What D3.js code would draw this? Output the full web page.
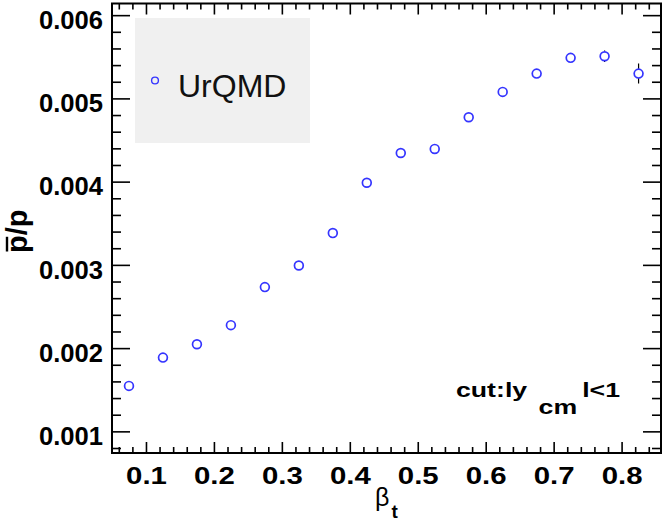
<!DOCTYPE html>
<html>
<head>
<meta charset="utf-8">
<title>pbar/p vs beta_t</title>
<script src="https://d3js.org/d3.v7.min.js"></script>
<style>
  body { margin: 0; background: #fff; }
  svg { display: block; }
  text { font-family: "Liberation Sans", Arial, sans-serif; }
</style>
</head>
<body>
<div id="chart"></div>
<script>
// data (UrQMD, |y_cm|<1)
const beta = [0.075, 0.125, 0.175, 0.225, 0.275, 0.325, 0.375, 0.425,
              0.475, 0.525, 0.575, 0.625, 0.675, 0.725, 0.775, 0.825]
const ratio = [0.001546, 0.001886, 0.002047, 0.002276, 0.002733, 0.002993, 0.003382, 0.003987,
               0.004344, 0.004393, 0.004773, 0.005078, 0.005298, 0.005487, 0.005506, 0.005298]
const ratioErr = [0.00004, 0.00003, 0.00003, 0.00003, 0.00003, 0.00003, 0.00003, 0.00003,
                  0.00004, 0.00004, 0.00004, 0.00004, 0.00005, 0.00005, 0.00007, 0.00012]
const xTicks = [0.1, 0.2, 0.3, 0.4, 0.5, 0.6, 0.7, 0.8]
const yTicks = [0.001, 0.002, 0.003, 0.004, 0.005, 0.006]
const legendLabel = "UrQMD"

const W = 662, H = 523
const frame = { left: 112, right: 661, top: 3.5, bottom: 453 }
const blue = "#3535ff"

const svg = d3.select("#chart").append("svg")
  .attr("width", W).attr("height", H)

const x = d3.scaleLinear().domain([0.05, 0.858]).range([frame.left, frame.right])
const y = d3.scaleLinear().domain([0.00074, 0.00614]).range([frame.bottom, frame.top])

// minor tick positions (every 0.02 in x, every 0.0002 in y)
const xMinor = d3.range(3, 43).filter(i => i % 5 !== 0).map(i => i * 0.02)
const yMinor = d3.range(4, 31).filter(i => i % 5 !== 0).map(i => i * 0.0002)

function styleAxis(g) {
  g.select(".domain").remove()
  g.selectAll("line").attr("stroke", "#000").attr("stroke-width", 1.6)
}

// bottom axis, labels
svg.append("g")
  .attr("transform", `translate(0,${frame.bottom})`)
  .call(d3.axisBottom(x).tickValues(xTicks).tickFormat(d3.format(".1f"))
    .tickSizeInner(-11).tickSizeOuter(0).tickPadding(14))
  .call(styleAxis)
  .call(g => g.selectAll("text")
    .attr("font-family", "Liberation Sans, Arial, sans-serif")
    .attr("font-weight", "bold").attr("font-size", 23.5)
    .attr("transform", "scale(1.25,1)"))
svg.append("g")
  .attr("transform", `translate(0,${frame.bottom})`)
  .call(d3.axisBottom(x).tickValues(xMinor).tickFormat("").tickSizeInner(-6).tickSizeOuter(0))
  .call(styleAxis)

// top axis, ticks only
svg.append("g")
  .attr("transform", `translate(0,${frame.top})`)
  .call(d3.axisTop(x).tickValues(xTicks).tickFormat("").tickSizeInner(-11).tickSizeOuter(0))
  .call(styleAxis)
svg.append("g")
  .attr("transform", `translate(0,${frame.top})`)
  .call(d3.axisTop(x).tickValues(xMinor).tickFormat("").tickSizeInner(-6).tickSizeOuter(0))
  .call(styleAxis)

// left axis, labels
svg.append("g")
  .attr("transform", `translate(${frame.left},0)`)
  .call(d3.axisLeft(y).tickValues(yTicks).tickFormat(d3.format(".3f"))
    .tickSizeInner(-18).tickSizeOuter(0).tickPadding(9))
  .call(styleAxis)
  .call(g => g.selectAll("text")
    .attr("font-family", "Liberation Sans, Arial, sans-serif")
    .attr("font-weight", "bold").attr("font-size", 25.6)
    .attr("dy", "0.52em"))
svg.append("g")
  .attr("transform", `translate(${frame.left},0)`)
  .call(d3.axisLeft(y).tickValues(yMinor).tickFormat("").tickSizeInner(-9).tickSizeOuter(0))
  .call(styleAxis)

// right axis, ticks only
svg.append("g")
  .attr("transform", `translate(${frame.right},0)`)
  .call(d3.axisRight(y).tickValues(yTicks).tickFormat("").tickSizeInner(-18).tickSizeOuter(0))
  .call(styleAxis)
svg.append("g")
  .attr("transform", `translate(${frame.right},0)`)
  .call(d3.axisRight(y).tickValues(yMinor).tickFormat("").tickSizeInner(-9).tickSizeOuter(0))
  .call(styleAxis)

// frame
svg.append("rect")
  .attr("x", frame.left).attr("y", frame.top)
  .attr("width", frame.right - frame.left).attr("height", frame.bottom - frame.top)
  .attr("fill", "none").attr("stroke", "#000").attr("stroke-width", 2)

// legend
svg.append("rect")
  .attr("x", 135).attr("y", 18).attr("width", 175).attr("height", 125)
  .attr("fill", "#f0f0f0")
svg.append("circle")
  .attr("cx", 155).attr("cy", 80.5).attr("r", 3.4)
  .attr("fill", "none").attr("stroke", blue).attr("stroke-width", 1.4)
svg.append("text")
  .attr("x", 178).attr("y", 97)
  .attr("font-size", 32)
  .attr("fill", "#111")
  .text(legendLabel)

// points with error bars (drawn outside the marker only)
const pts = beta.map((b, i) => ({ b: b, v: ratio[i], e: ratioErr[i] }))
const rMark = 4.4

svg.append("g").selectAll("path")
  .data(pts.filter(d => y(d.v - d.e) - y(d.v + d.e) > 2 * rMark + 1))
  .join("path")
  .attr("d", d => `M${x(d.b)},${y(d.v + d.e)}V${y(d.v) - rMark}M${x(d.b)},${y(d.v) + rMark}V${y(d.v - d.e)}`)
  .attr("stroke", "#000").attr("stroke-width", 1.2)

svg.append("g").selectAll("circle")
  .data(pts)
  .join("circle")
  .attr("cx", d => x(d.b))
  .attr("cy", d => y(d.v))
  .attr("r", rMark)
  .attr("fill", "none")
  .attr("stroke", blue)
  .attr("stroke-width", 1.7)

// cut annotation
const cut = svg.append("text")
  .attr("transform", "translate(456,397) scale(1.27,1)")
  .attr("font-weight", "bold").attr("font-size", 21)
cut.append("tspan").text("cut:ly")
cut.append("tspan").attr("dx", 9).attr("dy", 17).text("cm")
cut.append("tspan").attr("dx", 4).attr("dy", -17).text("l<1")

// x title: beta_t
const xt = svg.append("text")
  .attr("x", 375).attr("y", 506)
  .attr("font-size", 25)
xt.append("tspan").text("β")
xt.append("tspan").attr("dx", 2).attr("dy", 12)
  .attr("font-weight", "bold").attr("font-size", 19).text("t")

// y title: pbar/p
const yt = svg.append("g").attr("transform", "translate(27,253) rotate(-90)")
const ytText = yt.append("text")
  .attr("font-weight", "bold").attr("font-size", 29)
  .text("p/p")
const pw = ytText.node().getSubStringLength(0, 1)
yt.append("line")
  .attr("x1", 1.5).attr("x2", pw - 1.5)
  .attr("y1", -20).attr("y2", -20)
  .attr("stroke", "#000").attr("stroke-width", 2.4)
</script>
</body>
</html>
